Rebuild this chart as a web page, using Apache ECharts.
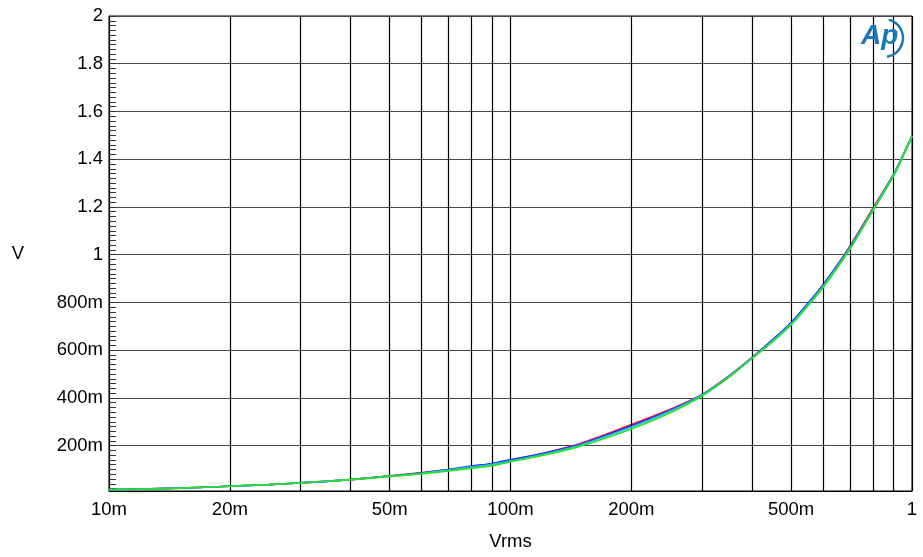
<!DOCTYPE html>
<html>
<head>
<meta charset="utf-8">
<script src="https://cdn.jsdelivr.net/npm/echarts@6/dist/echarts.min.js"></script>
<style>
html,body{margin:0;padding:0;background:#fff;}
#chart{width:923px;height:557px;}
</style>
</head>
<body>
<div id="chart"></div>
<script>
// ---- data ----
var xValues = [0.01, 0.012, 0.015, 0.02, 0.025, 0.03, 0.04, 0.05, 0.06, 0.07, 0.08, 0.09, 0.1, 0.12, 0.15, 0.2, 0.25, 0.3, 0.35, 0.4, 0.45, 0.5, 0.55, 0.6, 0.7, 0.8, 0.9, 1.0];
var redValues   = [0.016, 0.018, 0.022, 0.030, 0.037, 0.044, 0.058, 0.073, 0.087, 0.099, 0.112, 0.124, 0.139, 0.167, 0.210, 0.288, 0.352, 0.414, 0.492, 0.570, 0.643, 0.713, 0.792, 0.872, 1.035, 1.196, 1.338, 1.498];
var blueValues  = [0.016, 0.018, 0.022, 0.030, 0.037, 0.044, 0.058, 0.072, 0.085, 0.100, 0.114, 0.125, 0.141, 0.167, 0.207, 0.283, 0.348, 0.412, 0.490, 0.569, 0.644, 0.716, 0.795, 0.873, 1.030, 1.190, 1.335, 1.497];
var cyanValues  = [0.016, 0.018, 0.022, 0.030, 0.037, 0.044, 0.058, 0.072, 0.084, 0.098, 0.111, 0.122, 0.136, 0.163, 0.204, 0.278, 0.345, 0.412, 0.490, 0.568, 0.640, 0.711, 0.790, 0.868, 1.028, 1.190, 1.335, 1.497];
var greenValues = [0.016, 0.018, 0.022, 0.030, 0.037, 0.044, 0.058, 0.071, 0.082, 0.094, 0.106, 0.116, 0.133, 0.159, 0.199, 0.270, 0.338, 0.408, 0.486, 0.566, 0.636, 0.706, 0.785, 0.862, 1.022, 1.185, 1.330, 1.496];
var seriesNames = ['Ch1', 'Ch2', 'Ch3', 'Ch4'];
var seriesColors = ['#ff2020', '#2222ff', '#22b4ff', '#22e622'];

var xGridValues = [0.02, 0.03, 0.04, 0.05, 0.06, 0.07, 0.08, 0.09, 0.2, 0.3, 0.4, 0.5, 0.6, 0.7, 0.8, 0.9];
var xExtraLabels = {0.02: '20m', 0.05: '50m', 0.2: '200m', 0.5: '500m'};
var yMinorStep = 0.02;
var yMin = 0.01, yMax = 2;

function pairs(vals) {
  return xValues.map(function (x, i) { return [x, vals[i]]; });
}
var yMinorTicks = [];
for (var k = 1; k <= 100; k++) yMinorTicks.push(+(k * yMinorStep).toFixed(2));

var FONT = "'Liberation Sans', Arial, sans-serif";
var labelStyle = {fontFamily: FONT, fontSize: 18.5, color: '#000'};

var chart = echarts.init(document.getElementById('chart'), null, {renderer: 'canvas'});

var lineSeries = [redValues, blueValues, cyanValues, greenValues].map(function (vals, i) {
  return {
    name: seriesNames[i],
    type: 'line',
    data: pairs(vals),
    showSymbol: false,
    smooth: 0.3,
    lineStyle: {color: seriesColors[i], width: 1.7},
    itemStyle: {color: seriesColors[i]},
    z: 3 + i,
    animation: false
  };
});

var gridSeries = {
  name: 'grid',
  type: 'line',
  data: [[0.01, yMin]],
  showSymbol: false,
  lineStyle: {opacity: 0},
  z: 1,
  silent: true,
  animation: false,
  markLine: {
    silent: true,
    symbol: ['none', 'none'],
    animation: false,
    lineStyle: {color: '#000', width: 1.2, type: 'solid'},
    emphasis: {disabled: true},
    data: xGridValues.map(function (v) {
      var lbl = xExtraLabels[v];
      return {
        xAxis: v,
        label: lbl ? Object.assign({show: true, position: 'start', distance: 9, formatter: lbl}, labelStyle) : {show: false}
      };
    })
  }
};

chart.setOption({
  animation: false,
  backgroundColor: '#fff',
  grid: {left: 109, right: 11, top: 16, bottom: 66, show: true, borderColor: '#000', borderWidth: 1, containLabel: false},
  xAxis: {
    type: 'log',
    logBase: 10,
    min: 0.01,
    max: 1,
    name: 'Vrms',
    nameLocation: 'middle',
    nameGap: 41,
    nameTextStyle: labelStyle,
    axisLine: {show: true, lineStyle: {color: '#000', width: 1}},
    axisTick: {show: false},
    axisLabel: Object.assign({
      margin: 9,
      formatter: function (v) {
        if (v >= 0.999) return '1';
        return Math.round(v * 1000) + 'm';
      }
    }, labelStyle),
    splitLine: {show: true, lineStyle: {color: '#000', width: 1.2}},
    minorTick: {show: false},
    minorSplitLine: {show: false}
  },
  yAxis: [{
    type: 'value',
    min: yMin,
    max: yMax,
    splitNumber: 10,
    name: 'V',
    nameLocation: 'middle',
    nameGap: 85,
    nameRotate: 0,
    nameTextStyle: labelStyle,
    axisLine: {show: true, lineStyle: {color: '#000', width: 1}},
    axisTick: {show: false},
    axisLabel: Object.assign({
      margin: 6,
      formatter: function (v) {
        if (v < 0.05) return '';
        if (v >= 0.999) return String(+v.toFixed(1));
        return Math.round(v * 1000) + 'm';
      }
    }, labelStyle),
    splitLine: {show: true, lineStyle: {color: '#444', width: 1.2}}
  }, {
    type: 'value',
    min: yMin,
    max: yMax,
    position: 'left',
    offset: 0,
    axisLine: {show: false},
    axisLabel: {show: false},
    splitLine: {show: false},
    axisTick: {show: true, inside: true, length: 7, customValues: yMinorTicks, lineStyle: {color: '#333', width: 1}}
  }],
  series: [gridSeries].concat(lineSeries),
  graphic: [{
    type: 'text',
    left: 861,
    top: 22,
    style: {text: 'Ap', font: "italic bold 28px 'Liberation Sans', Arial, sans-serif", fill: '#1b78b4'},
    z: 10
  }, {
    type: 'arc',
    shape: {cx: 884, cy: 38, r: 19, startAngle: -Math.PI * 0.42, endAngle: Math.PI * 0.45, clockwise: true},
    style: {stroke: '#1b78b4', lineWidth: 2.5, fill: 'none'},
    z: 10
  }]
});
</script>
</body>
</html>
